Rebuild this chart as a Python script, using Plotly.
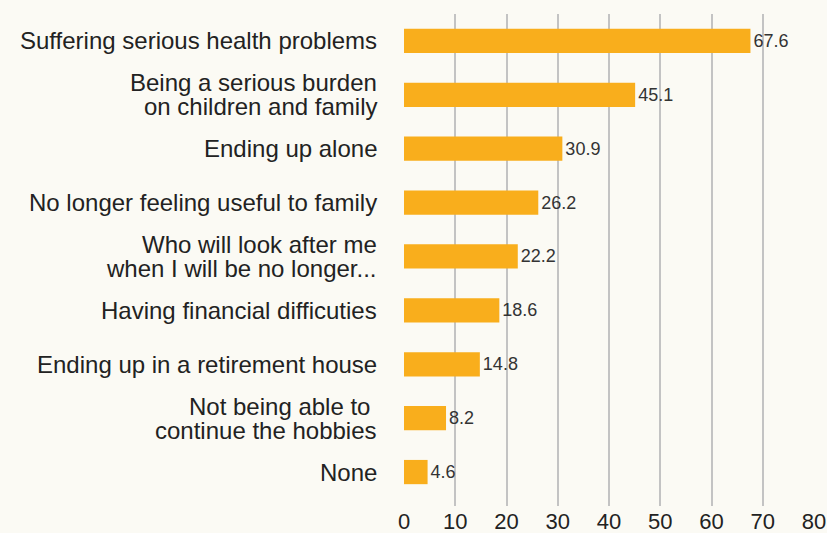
import plotly.graph_objects as go

categories = [
    "Suffering serious health problems",
    "Being a serious burden<br>on children and family",
    "Ending up alone",
    "No longer feeling useful to family",
    "Who will look after me<br>when I will be no longer...",
    "Having financial difficuties",
    "Ending up in a retirement house",
    "Not being able to <br>continue the hobbies",
    "None",
]
values = [67.6, 45.1, 30.9, 26.2, 22.2, 18.6, 14.8, 8.2, 4.6]
x_ticks = [0, 10, 20, 30, 40, 50, 60, 70, 80]

bg = "#FBFAF4"
line_gap = 24

fig = go.Figure()
fig.add_trace(go.Bar(
    y=categories, x=values, orientation="h",
    marker=dict(color="#F9AE1C", line=dict(width=0)),
    width=0.45,
    text=[f"{v:.1f}" for v in values], textposition="outside",
    textfont=dict(size=18, color="#333333"),
    cliponaxis=False,
))

# category labels drawn line by line to get a tighter line spacing
for cat in categories:
    lines = cat.split("<br>")
    n = len(lines)
    for i, ln in enumerate(lines):
        fig.add_annotation(
            x=0, xref="paper", y=cat, yref="y", text=ln, showarrow=False,
            xanchor="right", yanchor="middle", xshift=-25,
            yshift=((n - 1) / 2 - i) * line_gap,
            font=dict(size=24, color="#222222"),
        )

fig.update_layout(
    width=827, height=533,
    margin=dict(l=404, r=13, t=14, b=27),
    paper_bgcolor=bg, plot_bgcolor=bg,
    font=dict(family="Liberation Sans, Arial, sans-serif", color="#222222"),
    showlegend=False,
)
fig.update_xaxes(
    range=[0, 80], tickvals=x_ticks, showgrid=True, gridcolor="#C3C3C3", gridwidth=2,
    zeroline=False, tickfont=dict(size=22, color="#222222"), ticks="",
    automargin=False, ticklabelstandoff=0,
)
fig.update_yaxes(
    range=[8.63, -0.5], showgrid=False, ticks="", showticklabels=False,
    automargin=False,
)
fig.write_html("out.html", post_script="document.body.style.margin='0';",
               config={"displayModeBar": False})
